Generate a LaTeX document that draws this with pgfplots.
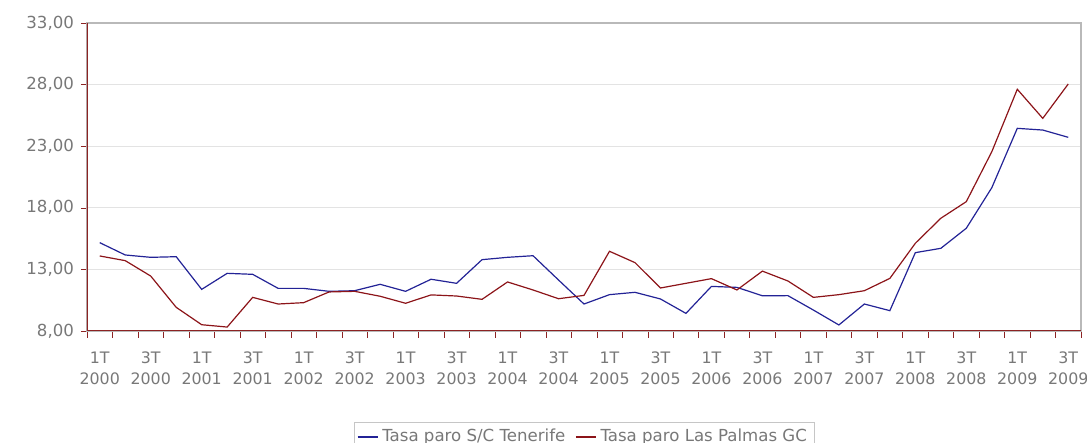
\documentclass[border=0pt]{standalone}
\usepackage{fontspec}
\setmainfont{DejaVu Sans}
\usepackage{pgfplots}
\usepackage{pgfplotstable}
\pgfplotsset{compat=1.18}
\definecolor{tfblue}{RGB}{35,35,150}
\definecolor{lpred}{RGB}{140,20,25}
\definecolor{axred}{RGB}{140,35,35}
\definecolor{txtgray}{RGB}{120,120,120}

% quarter index, Tenerife, Las Palmas
\pgfplotstableread{
q  tf     lp
1  15.17  14.09
2  14.17  13.71
3  13.98  12.46
4  14.03  9.92
5  11.38  8.51
6  12.68  8.32
7  12.60  10.73
8  11.46  10.19
9  11.46  10.30
10 11.22  11.17
11 11.27  11.22
12 11.79  10.82
13 11.22  10.25
14 12.20  10.93
15 11.87  10.84
16 13.79  10.57
17 13.98  11.98
18 14.11  11.33
19 12.14  10.62
20 10.19  10.89
21 10.95  14.47
22 11.14  13.55
23 10.60  11.49
24 9.43   11.87
25 11.62  12.25
26 11.54  11.33
27 10.86  12.86
28 10.87  12.06
29 9.70   10.73
30 8.49   10.95
31 10.19  11.27
32 9.65   12.27
33 14.36  15.12
34 14.71  17.15
35 16.34  18.50
36 19.63  22.55
37 24.45  27.62
38 24.31  25.26
39 23.72  28.05
}\paro

\begin{document}
\begin{tikzpicture}[font=\fontsize{8.3}{10.5}\selectfont]
\begin{axis}[
    at={(0,0)}, anchor=south west,
    scale only axis,
    width=497pt, height=154pt,
    xmin=0.5, xmax=39.5,
    ymin=8, ymax=33,
    ytick={8,13,18,23,28,33},
    xtick={1,3,...,39},
    minor xtick={0.5,1.5,...,39.5},
    xticklabels={1T\\2000,3T\\2000,1T\\2001,3T\\2001,1T\\2002,3T\\2002,1T\\2003,3T\\2003,1T\\2004,3T\\2004,1T\\2005,3T\\2005,1T\\2006,3T\\2006,1T\\2007,3T\\2007,1T\\2008,3T\\2008,1T\\2009,3T\\2009},
    xticklabel style={align=center, text=txtgray, yshift=-4pt,
        font=\fontsize{7.9}{10.5}\selectfont},
    yticklabel style={text=txtgray, /pgf/number format/.cd, fixed, fixed zerofill, precision=2, use comma, assume math mode=true},
    major x tick style={draw=none},
    minor x tick style={draw=axred},
    major tick length=3pt, minor tick length=3.5pt,
    y tick style={draw=axred},
    tick align=outside,
    xtick pos=bottom, ytick pos=left,
    ymajorgrids,
    grid style={gray!22, line width=0.4pt},
    axis line style={gray!55, line width=0.6pt},
    legend columns=2,
    legend style={at={(0.5,-0.2945)}, anchor=north, draw=gray!45, text=txtgray,
        font=\fontsize{8.3}{10}\selectfont, inner sep=1.5pt,
        /tikz/every even column/.append style={column sep=3pt}},
    legend image code/.code={\draw[#1] (0pt,0pt) -- (10pt,0pt);},
]
\addplot[tfblue, line width=0.6pt] table[x=q, y=tf] {\paro};
\addlegendentry{Tasa paro S/C Tenerife}
\addplot[lpred, line width=0.6pt] table[x=q, y=lp] {\paro};
\addlegendentry{Tasa paro Las Palmas GC}
\draw[axred, line width=0.7pt] (rel axis cs:0,1) -- (rel axis cs:0,0) -- (rel axis cs:1,0);
\node[text=txtgray] at (rel axis cs:0,0.5) [xshift=-35.5pt] {\%};
\end{axis}
\pgfresetboundingbox
\path[use as bounding box] (-43.5pt,-56pt) rectangle (500pt,165.5pt);
\end{tikzpicture}
\end{document}
